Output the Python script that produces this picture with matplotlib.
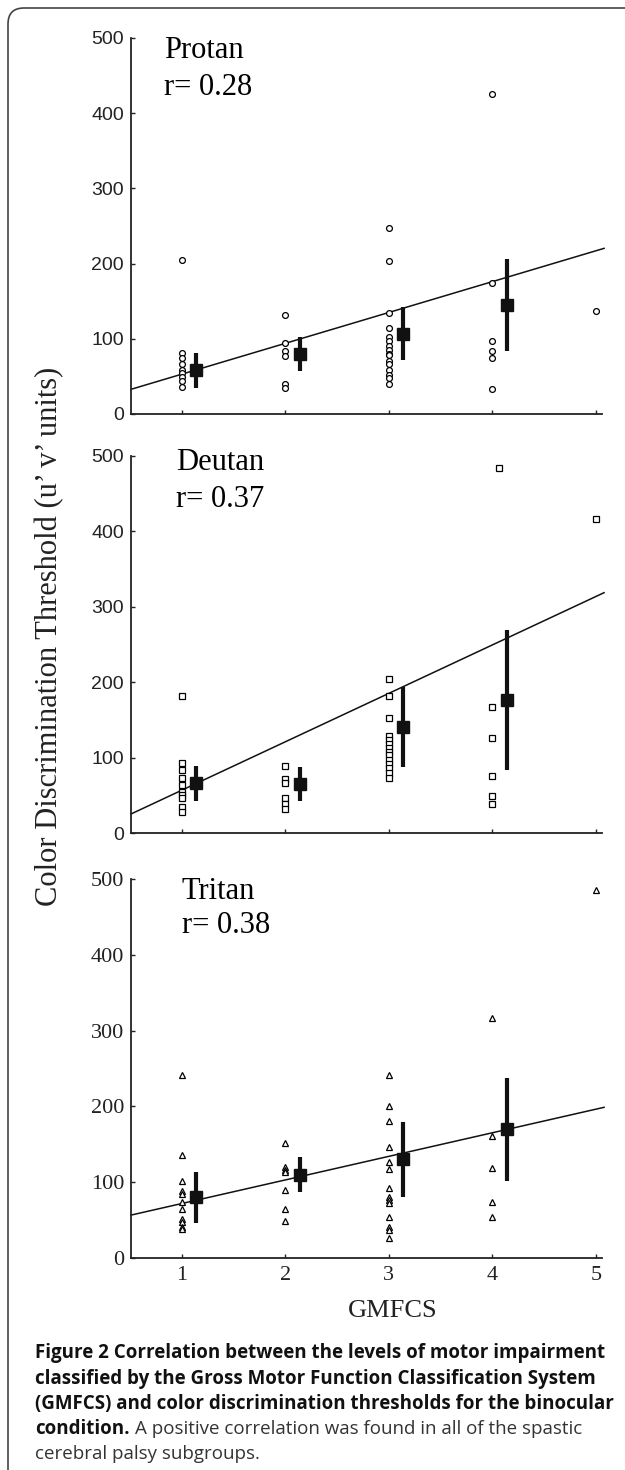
import matplotlib
matplotlib.use("Agg")
import matplotlib.pyplot as plt
from matplotlib.patches import FancyBboxPatch
import numpy as np

# values (u' v' units x 1e-4)
gmfcs = [1, 2, 3, 4, 5]

protan_pts = [
    [205, 81, 74, 66, 58, 54, 49, 44, 36],
    [131, 95, 84, 77, 40, 35],
    [248, 204, 134, 115, 103, 97, 91, 85, 80, 78, 70, 66, 59, 52, 48, 40],
    [425, 174, 97, 84, 75, 33],
    [137],
]
protan_mean = [58, 80, 107, 145]
protan_sd = [23, 23, 35, 61]
protan_fit = (12.0, 41.0)   # intercept, slope
protan_r = 0.28

deutan_pts = [
    [182, 93, 84, 73, 63, 55, 51, 46, 34, 28],
    [89, 72, 66, 47, 38, 32],
    [204, 182, 152, 128, 123, 118, 113, 108, 103, 97, 91, 86, 80, 73],
    [484, 167, 126, 75, 49, 39],
    [417],
]
# the top point of group 4 sits a bit right of the tick
deutan_xshift = {(3, 0): 0.06}
deutan_mean = [66, 65, 141, 176]
deutan_sd = [23, 23, 53, 93]
deutan_fit = (-7.4, 64.2)
deutan_r = 0.37

tritan_pts = [
    [242, 136, 102, 89, 85, 74, 65, 52, 48, 41, 38],
    [152, 120, 116, 113, 90, 65, 49],
    [242, 200, 181, 147, 127, 118, 92, 80, 76, 72, 54, 41, 37, 27],
    [316, 161, 119, 74, 54],
    [485],
]
tritan_mean = [80, 110, 130, 170]
tritan_sd = [34, 23, 50, 68]
tritan_fit = (40.8, 31.1)
tritan_r = 0.38

yticks = [0, 100, 200, 300, 400, 500]

SERIF = "Liberation Serif"
SANS = "Liberation Sans"

W, H = 625, 1470
fig = plt.figure(figsize=(W / 100, H / 100), dpi=100)

# rounded frame around the figure
frame = FancyBboxPatch((0.08, -0.5), 7.0, 14.62 + 0.5,
                       boxstyle="round,pad=0,rounding_size=0.16",
                       transform=fig.dpi_scale_trans, fill=False,
                       edgecolor="#444444", linewidth=1.2)
fig.patches.append(frame)

panels = [
    ("Protan", protan_pts, {}, protan_mean, protan_sd, protan_fit, protan_r, "o", 38, 414, SANS, 0.83, (484, 434)),
    ("Deutan", deutan_pts, deutan_xshift, deutan_mean, deutan_sd, deutan_fit, deutan_r, "s", 456, 833, SANS, 0.94, (491, 442)),
    ("Tritan", tritan_pts, {}, tritan_mean, tritan_sd, tritan_fit, tritan_r, "^", 879, 1258, SERIF, 1.0, (484, 438)),
]

left = 131 / W
width = 471 / W
xlim = (0.508, 5.06)

for i, (name, pts, shift, mean, sd, fit, r, mk, top, bot, tickfont, tx, ty) in enumerate(panels):
    ax = fig.add_axes([left, 1 - bot / H, width, (bot - top) / H])
    for gi, (g, vals) in enumerate(zip(gmfcs, pts)):
        xv = [g + shift.get((gi, k), 0) for k in range(len(vals))]
        ax.plot(xv, vals, linestyle="none", marker=mk,
                markersize=4.2 if mk != "^" else 4.6, markerfacecolor="white",
                markeredgecolor="black", markeredgewidth=0.9, zorder=3)
    xs = np.array(gmfcs[:len(mean)]) + 0.14
    ax.errorbar(xs, mean, yerr=sd, fmt="s", color="#111111", markersize=8,
                elinewidth=3, capsize=0, zorder=4)
    xl = np.array([xlim[0], 5.08])
    ax.plot(xl, fit[0] + fit[1] * xl, color="#111111", linewidth=1.1,
            clip_on=False, zorder=2)

    ax.set_xlim(*xlim)
    ax.set_ylim(0, 500)
    ax.set_yticks(yticks)
    ax.set_xticks(gmfcs)
    for s in ["top", "right"]:
        ax.spines[s].set_visible(False)
    for s in ["left", "bottom"]:
        ax.spines[s].set_linewidth(1.3)
        ax.spines[s].set_color("#222222")
    ax.tick_params(axis="both", direction="in", length=3, width=1, color="#222222")
    ax.tick_params(axis="y", pad=5)
    if tickfont == SANS:
        ax.set_yticklabels([str(t) for t in yticks], fontfamily=SANS, fontsize=14, color="#222222")
    else:
        ax.set_yticklabels([str(t) for t in yticks], fontfamily=SERIF, fontsize=16, color="#222222")
    if i < 2:
        ax.set_xticklabels([])
    else:
        ax.set_xticklabels([str(g) for g in gmfcs], fontfamily=SERIF, fontsize=16, color="#222222")
        ax.tick_params(axis="x", pad=6)

    ax.text(tx, ty[0], name, fontfamily=SERIF, fontsize=22, va="center", ha="left")
    ax.text(tx, ty[1], "r= %.2f" % r, fontfamily=SERIF, fontsize=22, va="center", ha="left")

fig.text(50 / W, 1 - 636 / H, "Color Discrimination Threshold (u\u2019 v\u2019 units)",
         rotation=90, fontfamily=SERIF, fontsize=22, ha="center", va="center", color="#222222")
fig.text(393 / W, 1 - 1311 / H, "GMFCS", fontfamily=SERIF, fontsize=19,
         ha="center", va="center", color="#222222")

# caption
cap_font = "Open Sans"
cap_size = 13.5
bold_lines = [
    "Figure 2 Correlation between the levels of motor impairment",
    "classified by the Gross Motor Function Classification System",
    "(GMFCS) and color discrimination thresholds for the binocular",
]
ys = [1353, 1379, 1404]
for line, y in zip(bold_lines, ys):
    fig.text(35 / W, 1 - y / H, line, fontfamily=cap_font, fontsize=cap_size,
             fontweight="bold", ha="left", va="center", color="#111111")

t = fig.text(35 / W, 1 - 1429 / H, "condition.", fontfamily=cap_font, fontsize=cap_size,
             fontweight="bold", ha="left", va="center", color="#111111")
rend = fig.canvas.get_renderer()
bb = t.get_window_extent(renderer=rend)
fig.text((bb.x1 + 5) / W, 1 - 1429 / H, "A positive correlation was found in all of the spastic",
         fontfamily=cap_font, fontsize=cap_size, ha="left", va="center", color="#333333")
fig.text(35 / W, 1 - 1454 / H, "cerebral palsy subgroups.", fontfamily=cap_font,
         fontsize=cap_size, ha="left", va="center", color="#333333")

fig.savefig("out.png", dpi=100)
